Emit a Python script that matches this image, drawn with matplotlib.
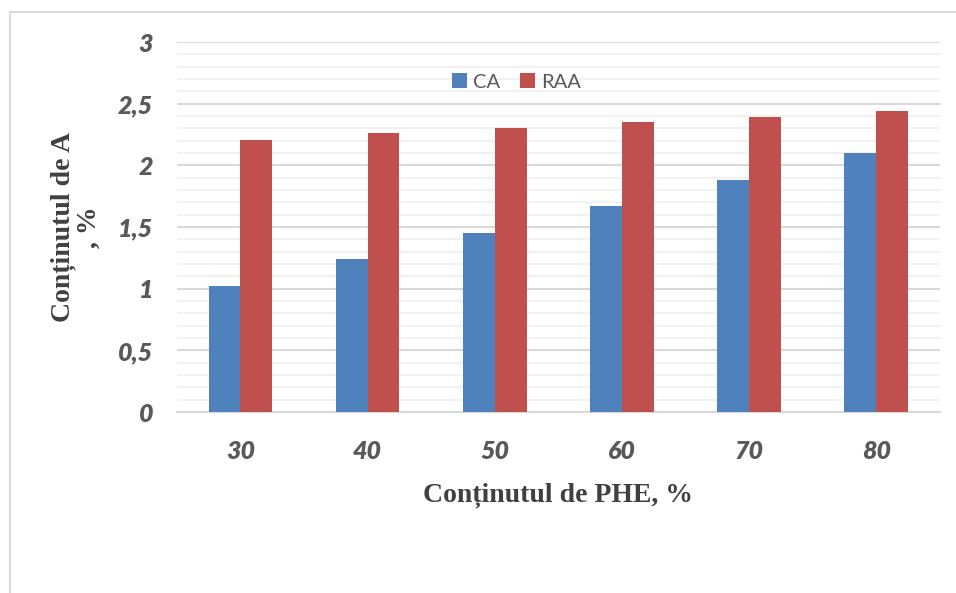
import numpy as np
import matplotlib.pyplot as plt
from matplotlib.lines import Line2D
from matplotlib.ticker import MultipleLocator, FuncFormatter

### Dados

categorias = ['30', '40', '50', '60', '70', '80']
ca = [1.02, 1.24, 1.45, 1.67, 1.88, 2.10]
raa = [2.21, 2.26, 2.30, 2.35, 2.39, 2.44]

AZUL = '#4F81BD'
VERMELHO = '#C0504D'
CINZA = '#595959'

### Figura

fig = plt.figure(figsize=(9.56, 5.93), dpi=100)
ax = fig.add_axes([0.185, 0.305, 0.798, 0.624])

x = np.arange(len(categorias))
largura = 0.25
ax.bar(x - largura / 2, ca, largura, color=AZUL, label='CA', zorder=3)
ax.bar(x + largura / 2, raa, largura, color=VERMELHO, label='RAA', zorder=3)

ax.set_xlim(-0.5, len(categorias) - 0.5)
ax.set_ylim(0, 3)
ax.yaxis.set_major_locator(MultipleLocator(0.5))
ax.yaxis.set_minor_locator(MultipleLocator(0.1))
ax.yaxis.set_major_formatter(FuncFormatter(lambda v, p: f'{v:g}'.replace('.', ',')))
ax.grid(axis='y', which='major', color='#d9d9d9', linewidth=1.5, zorder=0)
ax.grid(axis='y', which='minor', color='#f2f2f2', linewidth=1.5, zorder=0)

for s in ['top', 'right', 'left']:
    ax.spines[s].set_visible(False)
ax.spines['bottom'].set_color('#d9d9d9')
ax.spines['bottom'].set_linewidth(1.5)

ax.set_xticks(x)
ax.set_xticklabels(categorias)
ax.tick_params(axis='both', which='both', length=0)
ax.tick_params(axis='x', pad=20)
ax.tick_params(axis='y', pad=17)
for t in ax.get_xticklabels() + ax.get_yticklabels():
    t.set_fontfamily('Lato')
    t.set_fontweight('heavy')
    t.set_fontstyle('italic')
    t.set_fontsize(18)
    t.set_color(CINZA)

ax.set_xlabel('Conținutul de PHE, %', fontfamily='Liberation Serif',
              fontweight='bold', fontsize=20, color='#404040', labelpad=14)
ax.set_ylabel('Conținutul de A\n, %', fontfamily='Liberation Serif',
              fontweight='bold', fontsize=20, color='#404040', labelpad=12,
              linespacing=1.05)

leg = ax.legend(loc='upper center', bbox_to_anchor=(0.445, 0.965), ncol=2,
                frameon=False, handlelength=0.75, handleheight=0.75,
                handletextpad=0.3, columnspacing=1.0,
                prop={'family': 'Lato', 'size': 14.5})
for t in leg.get_texts():
    t.set_color(CINZA)

# moldura do gráfico
y_top = 1 - 12 / 593
x_left = 10 / 956
fig.add_artist(Line2D([x_left, x_left], [0, y_top], color='#d9d9d9', linewidth=1.5))
fig.add_artist(Line2D([x_left, 1], [y_top, y_top], color='#d9d9d9', linewidth=1.5))

fig.savefig('out.png', dpi=100)
